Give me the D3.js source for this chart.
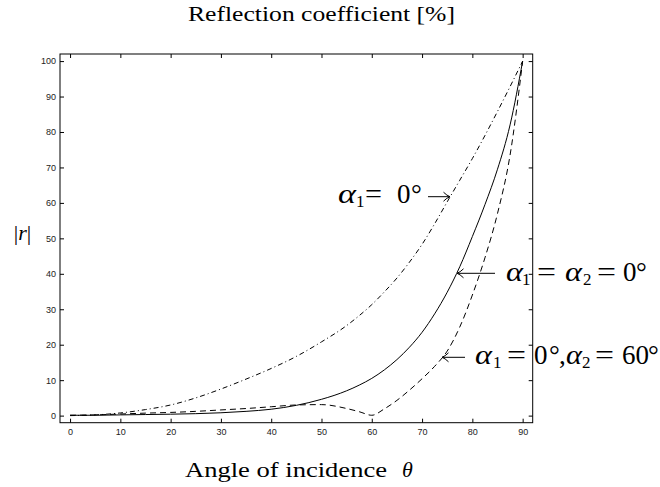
<!DOCTYPE html>
<html>
<head>
<meta charset="utf-8">
<script src="https://cdn.jsdelivr.net/npm/d3@7"></script>
<style>
  html, body { margin: 0; padding: 0; background: #fff; }
  svg { display: block; }
</style>
</head>
<body>
<svg id="chart" width="660" height="487"></svg>
<script>
// Angles of incidence (degrees) at which |r| is sampled
const angles = [0, 5, 10, 15, 20, 25, 30, 35, 40, 45, 50, 55, 57.5, 60, 62.5, 65, 67.5, 70, 72.5, 75, 77.5, 80, 82.5, 85, 87.5, 90];

// |r| in percent for alpha1 = alpha2 = 0 deg (solid)
const rBothZero = [0.1, 0.1, 0.2, 0.3, 0.4, 0.55, 0.8, 1.2, 1.8, 2.9, 4.6, 7.0, 8.6, 10.5, 12.9, 15.8, 19.3, 23.5, 28.7, 34.8, 42.0, 50.5, 59.5, 69.5, 82.0, 100];

// |r| in percent for alpha1 = 0 deg, alpha2 = 60 deg (dashed)
const rAlpha2Sixty = [0.1, 0.2, 0.45, 0.7, 0.9, 1.2, 1.6, 2.0, 2.5, 3.0, 3.1, 2.0, 1.1, 0.1, 1.9, 4.3, 7.2, 10.4, 13.9, 18.2, 25.0, 34.0, 44.5, 57.0, 73.5, 100];

// |r| in percent for alpha1 = 0 deg (dash-dot)
const rAlpha1Zero = [0, 0.2, 0.75, 1.7, 3.0, 5.0, 7.5, 10.3, 13.3, 16.7, 20.8, 25.4, 28.2, 31.3, 34.9, 38.8, 43.3, 48.3, 54.1, 60.3, 66.4, 72.5, 79.0, 85.8, 92.8, 100];

// Axis ticks
const xTicks = [0, 10, 20, 30, 40, 50, 60, 70, 80, 90];
const yTicks = [0, 10, 20, 30, 40, 50, 60, 70, 80, 90, 100];

const svg = d3.select("#chart");
const serif = "'Liberation Serif', 'Times New Roman', serif";
const sans = "'Liberation Sans', Arial, Helvetica, sans-serif";

const box = { left: 60, right: 532.7, top: 54, bottom: 422.7 };
const x = d3.scaleLinear().domain([-2, 92]).range([box.left, box.right]);
const y = d3.scaleLinear().domain([-2, 102]).range([box.bottom, box.top]);

// Curves
const line = d3.line().x(d => x(d[0])).y(d => y(d[1])).curve(d3.curveMonotoneX);
const pts = vals => angles.map((a, i) => [a, vals[i]]);

const plot = svg.append("g").attr("fill", "none").attr("stroke", "#000").attr("stroke-width", 1);

plot.append("path").attr("d", line(pts(rBothZero)));

// Dashed curve has a cusp at its zero, so it is drawn as two joined pieces
const dashed = pts(rAlpha2Sixty);
const zeroIdx = rAlpha2Sixty.indexOf(d3.min(rAlpha2Sixty.slice(5)));
const dPath = line(dashed.slice(0, zeroIdx + 1)) + line(dashed.slice(zeroIdx)).replace(/^M/, "L");
plot.append("path").attr("d", dPath).attr("stroke-dasharray", "6,4");

plot.append("path").attr("d", line(pts(rAlpha1Zero))).attr("stroke-dasharray", "5,3,1,3");

// Axes: inward ticks on all four sides, labels on bottom and left
function styleAxis(g) {
  g.select(".domain").remove();
  g.selectAll(".tick line").attr("stroke", "#000");
  g.selectAll(".tick text").attr("font-family", sans).attr("font-size", 9).attr("fill", "#222");
}
svg.append("g").attr("transform", `translate(0,${box.bottom})`)
  .call(d3.axisBottom(x).tickValues(xTicks).tickSizeInner(-4).tickSizeOuter(0).tickPadding(6))
  .call(styleAxis);
svg.append("g").attr("transform", `translate(0,${box.top})`)
  .call(d3.axisTop(x).tickValues(xTicks).tickSizeInner(-4).tickSizeOuter(0).tickFormat(""))
  .call(styleAxis);
svg.append("g").attr("transform", `translate(${box.left},0)`)
  .call(d3.axisLeft(y).tickValues(yTicks).tickSizeInner(-4).tickSizeOuter(0).tickPadding(4))
  .call(styleAxis);
svg.append("g").attr("transform", `translate(${box.right},0)`)
  .call(d3.axisRight(y).tickValues(yTicks).tickSizeInner(-4).tickSizeOuter(0).tickFormat(""))
  .call(styleAxis);

svg.append("rect")
  .attr("x", box.left).attr("y", box.top)
  .attr("width", box.right - box.left).attr("height", box.bottom - box.top)
  .attr("fill", "none").attr("stroke", "#000").attr("stroke-width", 1);

// Title and axis labels
svg.append("text").attr("x", 188).attr("y", 21)
  .attr("font-family", serif).attr("font-size", 21)
  .attr("textLength", 267).attr("lengthAdjust", "spacingAndGlyphs")
  .text("Reflection coefficient [%]");

svg.append("text").attr("x", 185).attr("y", 477)
  .attr("font-family", serif).attr("font-size", 21)
  .attr("textLength", 202).attr("lengthAdjust", "spacingAndGlyphs")
  .text("Angle of incidence");
svg.append("text").attr("x", 402).attr("y", 477)
  .attr("font-family", serif).attr("font-size", 22).attr("font-style", "italic")
  .text("θ");

const yl = svg.append("text").attr("x", 22.5).attr("y", 240)
  .attr("font-family", serif).attr("font-size", 22).attr("text-anchor", "middle");
yl.append("tspan").text("|");
yl.append("tspan").attr("font-style", "italic").text("r");
yl.append("tspan").text("|");

// Annotations: pieces of math text set at explicit x positions
function mathLabel(baseline, pieces) {
  const t = svg.append("text").attr("font-family", serif).attr("font-size", 27).attr("fill", "#000");
  pieces.forEach(p => {
    const s = t.append("tspan").attr("x", p.x).attr("y", baseline + (p.sub ? 4 : 0)).text(p.t);
    if (p.it) s.attr("font-style", "italic");
    if (p.sub) s.attr("font-size", 17);
    if (p.w) s.attr("textLength", p.w).attr("lengthAdjust", "spacingAndGlyphs");
  });
}
function arrow(x1, x2, yy) {
  // x2 is the tip
  const dir = x2 > x1 ? 1 : -1;
  const bx = x2 - dir * 6.5;
  svg.append("path")
    .attr("d", `M${x1},${yy}L${x2},${yy}M${bx},${yy - 4.5}Q${x2 - dir * 3},${yy - 1} ${x2},${yy}Q${x2 - dir * 3},${yy + 1} ${bx},${yy + 4.5}`)
    .attr("fill", "none").attr("stroke", "#000").attr("stroke-width", 1);
}

mathLabel(203.3, [
  { t: "α", x: 338, it: true, w: 18 }, { t: "1", x: 356, sub: true },
  { t: "=", x: 365, w: 17 }, { t: "0", x: 397 }, { t: "°", x: 411 }
]);
arrow(428, 450, 196.7);

arrow(495, 457, 273.3);
mathLabel(280.7, [
  { t: "α", x: 506, it: true, w: 17 }, { t: "1", x: 522, sub: true },
  { t: "=", x: 537, w: 19 }, { t: "α", x: 565, it: true, w: 17 }, { t: "2", x: 583, sub: true },
  { t: "=", x: 597, w: 19 }, { t: "0", x: 623 }, { t: "°", x: 636 }
]);

arrow(465, 442, 357.3);
mathLabel(364, [
  { t: "α", x: 475, it: true, w: 17 }, { t: "1", x: 493, sub: true },
  { t: "=", x: 507, w: 19 }, { t: "0", x: 534 }, { t: "°", x: 549 }, { t: ",", x: 559 },
  { t: "α", x: 566, it: true, w: 16 }, { t: "2", x: 582, sub: true },
  { t: "=", x: 595, w: 19 }, { t: "60", x: 622 }, { t: "°", x: 648 }
]);
</script>
</body>
</html>
